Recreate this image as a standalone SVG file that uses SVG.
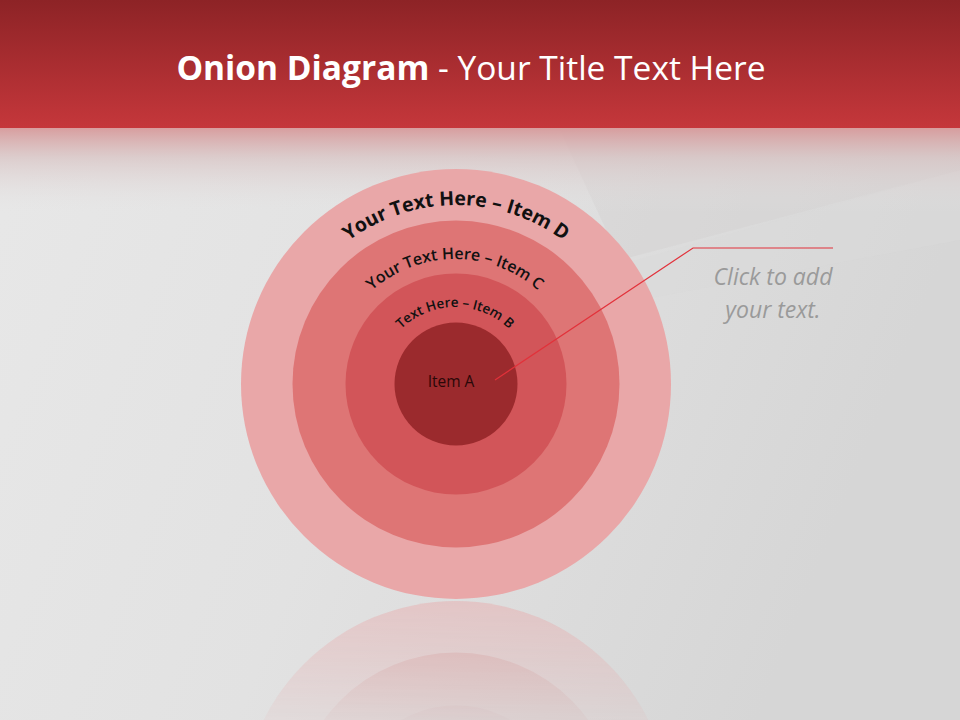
<svg xmlns="http://www.w3.org/2000/svg" width="960" height="720" viewBox="0 0 960 720">
<defs>
<linearGradient id="bg" x1="0" y1="0" x2="1" y2="0.3">
<stop offset="0" stop-color="#E8E8E8"/>
<stop offset="0.5" stop-color="#E2E2E2"/>
<stop offset="1" stop-color="#D6D6D6"/>
</linearGradient>
<linearGradient id="hdr" x1="0" y1="0" x2="0" y2="1">
<stop offset="0" stop-color="#8D2326"/>
<stop offset="1" stop-color="#C5373B"/>
</linearGradient>
<linearGradient id="fade" x1="0" y1="0" x2="0" y2="1">
<stop offset="0" stop-color="#D79A9B" stop-opacity="0.95"/>
<stop offset="0.35" stop-color="#D8C2C2" stop-opacity="0.7"/>
<stop offset="1" stop-color="#E4E4E4" stop-opacity="0"/>
</linearGradient>
<linearGradient id="refl" x1="0" y1="0" x2="0" y2="1">
<stop offset="0" stop-color="#fff" stop-opacity="0.45"/>
<stop offset="1" stop-color="#fff" stop-opacity="0.1"/>
</linearGradient>
<mask id="rm">
<rect x="0" y="600" width="960" height="120" fill="url(#refl)"/>
</mask>
<path id="arcD" d="M 277 384 A 179 179 0 0 1 635 384"/>
<path id="arcC" d="M 330 384 A 125 125 0 0 1 580 384"/>
<path id="arcB" d="M 378 384 A 77 77 0 0 1 532 384"/>
</defs>
<style>
.arc{font-family:"Open Sans","Liberation Sans",sans-serif;font-weight:600;fill:#111;}
.call{font-family:"Open Sans","Liberation Sans",sans-serif;font-style:italic;font-size:23px;fill:#9A9A9A;text-anchor:middle;}
</style>
<rect x="0" y="0" width="960" height="720" fill="url(#bg)"/>
<polygon points="600,270 960,170 960,240 640,300" fill="#D9D9D9" opacity="0.5"/>
<polygon points="560,130 960,130 960,170 620,260" fill="#D3CFCF" opacity="0.4"/>
<rect x="0" y="0" width="960" height="128" fill="url(#hdr)"/>
<rect x="0" y="128" width="960" height="85" fill="url(#fade)"/>
<text x="471" y="80" text-anchor="middle" font-family="'Open Sans','Liberation Sans',sans-serif" font-size="33.5" fill="#FFFFFF"><tspan font-weight="bold">Onion Diagram</tspan> - Your Title Text Here</text>
<g id="reflection" mask="url(#rm)">
<circle cx="456" cy="816" r="215" fill="#E9A7A8"/>
<circle cx="456" cy="816" r="163.5" fill="#DE7575"/>
<circle cx="456" cy="816" r="110.5" fill="#D25559"/>
</g>
<g id="itemD"><circle cx="456" cy="384" r="215" fill="#E9A7A8"/>
<text class="arc" font-size="19.5" style="font-weight:700"><textPath href="#arcD" startOffset="50%" text-anchor="middle">Your Text Here – Item D</textPath></text></g>
<g id="itemC"><circle cx="456" cy="384" r="163.5" fill="#DE7575"/>
<text class="arc" font-size="16"><textPath href="#arcC" startOffset="50%" text-anchor="middle">Your Text Here – Item C</textPath></text></g>
<g id="itemB"><circle cx="456" cy="384" r="110.5" fill="#D25559"/>
<text class="arc" font-size="13.5"><textPath href="#arcB" startOffset="50%" text-anchor="middle">Text Here – Item B</textPath></text></g>
<g id="itemA"><circle cx="456" cy="384" r="61.5" fill="#9B2A2D"/>
<text x="451" y="387" text-anchor="middle" font-family="'Open Sans','Liberation Sans',sans-serif" font-size="15.5" fill="#2A0808">Item A</text></g>
<g id="connectors">
<polyline points="495,380 693,248 833,248" fill="none" stroke="#E2313A" stroke-width="1.2"/>
</g>
<g id="callout">
<text class="call" x="773" y="285">Click  to add</text>
<text class="call" x="773" y="318">your text.</text>
</g>
</svg>
